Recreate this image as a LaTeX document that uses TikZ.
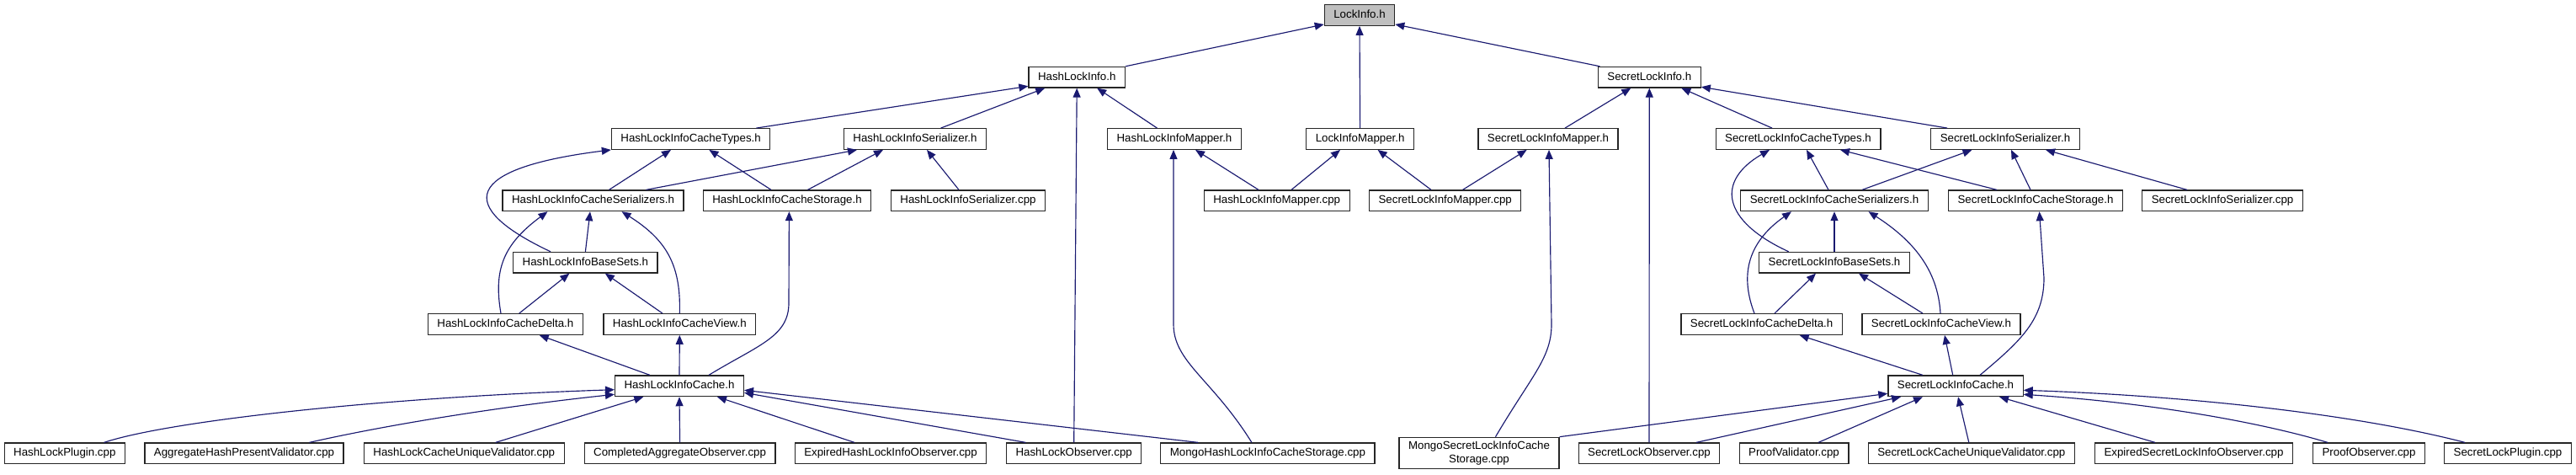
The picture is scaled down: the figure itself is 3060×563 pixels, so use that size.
\documentclass[tikz,border=0pt]{standalone}
\usepackage{fontspec}
\setmainfont{Liberation Sans}
\usetikzlibrary{arrows.meta}
\definecolor{navy}{HTML}{191970}
\definecolor{rootgray}{HTML}{BFBFBF}
\tikzset{
  boxbase/.style={draw=black!85, line width=1.25pt, fill=white, rectangle, inner xsep=11pt,
    font=\fontsize{13.3}{15.3}\selectfont},
  box/.style={boxbase, minimum height=24.6pt, inner ysep=0pt, text height=9.6pt, text depth=2.8pt},
  boxtwo/.style={boxbase, minimum height=37.4pt, inner ysep=4pt, align=center},
  edge/.style={draw=navy, line width=1.15pt, -{Triangle[length=11pt,width=9pt]}},
}
\begin{document}
\begin{tikzpicture}[x=1pt,y=1pt]
\fill[white] (0,0) rectangle (3060,-563);
\path[use as bounding box] (0,0) rectangle (3060,-563);
% row 0
\node[box, fill=rootgray] (li) at (1615,-18) {LockInfo.h};
% row 1
\node[box] (hli) at (1279.2,-91.7) {HashLockInfo.h};
\node[box] (sli) at (1959.3,-91.7) {SecretLockInfo.h};
% row 2
\node[box] (hlct) at (820.6,-165) {HashLockInfoCacheTypes.h};
\node[box] (hls) at (1087,-165) {HashLockInfoSerializer.h};
\node[box] (hlm) at (1395,-165) {HashLockInfoMapper.h};
\node[box] (lim) at (1615.6,-165) {LockInfoMapper.h};
\node[box] (slm) at (1839,-165) {SecretLockInfoMapper.h};
\node[box] (slct) at (2136,-165) {SecretLockInfoCacheTypes.h};
\node[box] (sls) at (2382,-165) {SecretLockInfoSerializer.h};
% row 3
\node[box] (hlcs) at (704.5,-238.3) {HashLockInfoCacheSerializers.h};
\node[box] (hlcst) at (935,-238.3) {HashLockInfoCacheStorage.h};
\node[box] (hlscpp) at (1150,-238.3) {HashLockInfoSerializer.cpp};
\node[box] (hlmcpp) at (1516.7,-238.3) {HashLockInfoMapper.cpp};
\node[box] (slmcpp) at (1716.7,-238.3) {SecretLockInfoMapper.cpp};
\node[box] (slcs) at (2179,-238.3) {SecretLockInfoCacheSerializers.h};
\node[box] (slcst) at (2418,-238.3) {SecretLockInfoCacheStorage.h};
\node[box] (slscpp) at (2640,-238.3) {SecretLockInfoSerializer.cpp};
% row 4
\node[box] (hlbs) at (695.4,-311.7) {HashLockInfoBaseSets.h};
\node[box] (slbs) at (2179,-311.7) {SecretLockInfoBaseSets.h};
% row 5
\node[box] (hlcd) at (600.4,-385) {HashLockInfoCacheDelta.h};
\node[box] (hlcv) at (807.3,-385) {HashLockInfoCacheView.h};
\node[box] (slcd) at (2092.6,-385) {SecretLockInfoCacheDelta.h};
\node[box] (slcv) at (2306,-385) {SecretLockInfoCacheView.h};
% row 6
\node[box] (hlc) at (807,-458.3) {HashLockInfoCache.h};
\node[box] (slc) at (2323,-458.3) {SecretLockInfoCache.h};
% row 7
\node[box] (hlp) at (76.8,-538.3) {HashLockPlugin.cpp};
\node[box] (ahpv) at (290,-538.3) {AggregateHashPresentValidator.cpp};
\node[box] (hlcuv) at (551.3,-538.3) {HashLockCacheUniqueValidator.cpp};
\node[box] (cao) at (807.6,-538.3) {CompletedAggregateObserver.cpp};
\node[box] (ehlio) at (1058,-538.3) {ExpiredHashLockInfoObserver.cpp};
\node[box] (hlo) at (1275.7,-538.3) {HashLockObserver.cpp};
\node[box] (mhlics) at (1505.9,-538.3) {MongoHashLockInfoCacheStorage.cpp};
\node[boxtwo] (mslics) at (1757,-538) {MongoSecretLockInfoCache\\Storage.cpp};
\node[box] (slo) at (1959,-538.3) {SecretLockObserver.cpp};
\node[box] (pv) at (2131,-538.3) {ProofValidator.cpp};
\node[box] (slcuv) at (2341.8,-538.3) {SecretLockCacheUniqueValidator.cpp};
\node[box] (eslio) at (2606,-538.3) {ExpiredSecretLockInfoObserver.cpp};
\node[box] (po) at (2814,-538.3) {ProofObserver.cpp};
\node[box] (slp) at (2979,-538.3) {SecretLockPlugin.cpp};

% edges to LockInfo.h
\draw[edge] (hli.north east) -- ([yshift=2pt]li.south west);
\draw[edge] (lim.north) -- (li.south);
\draw[edge] ([xshift=2.6pt]sli.north west) -- ([yshift=2pt]li.south east);
% edges to HashLockInfo.h
\draw[edge] ([xshift=-17pt]hlct.north east) -- ([yshift=2.3pt]hli.south west);
\draw[edge] ([xshift=30.6pt]hls.north) -- ([xshift=-38pt]hli.south);
\draw[edge] (hlo.north) -- (hli.south);
\draw[edge] ([xshift=-20.5pt]hlm.north) -- ([xshift=24pt]hli.south);
% edges to SecretLockInfo.h
\draw[edge] ([xshift=20pt]slm.north) -- ([xshift=-22pt]sli.south);
\draw[edge] (slo.north) -- (sli.south);
\draw[edge] ([xshift=-31pt]slct.north) -- ([xshift=38pt]sli.south);
\draw[edge] ([xshift=-69pt]sls.north) -- ([yshift=1.4pt]sli.south east);
% edges to HashLockInfoCacheTypes.h
\draw[edge] ([xshift=19pt]hlcs.north) -- ([xshift=-23.6pt]hlct.south);
\draw[edge] ([xshift=-19pt]hlcst.north) -- ([xshift=21.8pt]hlct.south);
\draw[edge] ([xshift=-41.4pt]hlbs.north) .. controls (540,-245) and (550,-200) .. (hlct.south west);
% edges to HashLockInfoSerializer.h
\draw[edge] ([xshift=63pt]hlcs.north) -- ([xshift=-69pt]hls.south);
\draw[edge] ([xshift=24.5pt]hlcst.north) -- ([xshift=-38pt]hls.south);
\draw[edge] ([xshift=-11pt]hlscpp.north) -- ([xshift=14pt]hls.south);
% edges to HashLockInfoMapper.h
\draw[edge] ([xshift=-21.7pt]hlmcpp.north) -- ([xshift=25pt]hlm.south);
\draw[edge] ([xshift=-19pt]mhlics.north) .. controls (1440,-450) and (1394,-430) .. (1394,-385) -- ([xshift=-1pt]hlm.south);
% edges to LockInfoMapper.h
\draw[edge] ([xshift=17.3pt]hlmcpp.north) -- ([xshift=-23.6pt]lim.south);
\draw[edge] ([xshift=-16.7pt]slmcpp.north) -- ([xshift=21pt]lim.south);
% edges to SecretLockInfoMapper.h
\draw[edge] ([xshift=20.8pt]slmcpp.north) -- ([xshift=-25.4pt]slm.south);
\draw[edge] ([xshift=19.5pt]mslics.north) .. controls (1820,-445) and (1843,-425) .. (1843,-385) -- ([xshift=1pt]slm.south);
% edges to SecretLockInfoCacheTypes.h
\draw[edge] ([xshift=-7pt]slcs.north) -- ([xshift=10pt]slct.south);
\draw[edge] ([xshift=-46pt]slcst.north) -- ([xshift=50pt]slct.south);
\draw[edge] ([xshift=-54.4pt]slbs.north) .. controls (2045,-262) and (2038,-215) .. ([xshift=-34pt]slct.south);
% edges to SecretLockInfoSerializer.h
\draw[edge] ([xshift=33pt]slcs.north) -- ([xshift=-39.5pt]sls.south);
\draw[edge] ([xshift=-6pt]slcst.north) -- ([xshift=7pt]sls.south);
\draw[edge] ([xshift=-42pt]slscpp.north) -- ([xshift=48pt]sls.south);
% edges to HashLockInfoCacheSerializers.h
\draw[edge] (hlbs.north) -- ([xshift=-3.5pt]hlcs.south);
\draw[edge] ([xshift=-5.4pt]hlcd.north) .. controls (586,-320) and (598,-290) .. ([xshift=-54pt]hlcs.south);
\draw[edge] (hlcv.north) .. controls (809,-315) and (792,-285) .. ([xshift=34pt]hlcs.south);
% edges to HashLockInfoCacheStorage.h
\draw[edge] ([xshift=35pt]hlc.north) .. controls (900,-410) and (937,-400) .. (937,-360) -- ([xshift=2.4pt]hlcst.south);
% edges to HashLockInfoBaseSets.h
\draw[edge] ([xshift=16.3pt]hlcd.north) -- ([xshift=-19pt]hlbs.south);
\draw[edge] ([xshift=-20.3pt]hlcv.north) -- ([xshift=23.4pt]hlbs.south);
% edges to HashLockInfoCacheDelta.h / View.h
\draw[edge] ([xshift=-35pt]hlc.north) -- ([xshift=40.3pt]hlcd.south);
\draw[edge] (hlc.north) -- (hlcv.south);
% edges to HashLockInfoCache.h
\draw[edge] ([xshift=46.8pt]hlp.north) .. controls (200,-500) and (450,-472) .. ([yshift=-4.4pt]hlc.west);
\draw[edge] ([xshift=77.5pt]ahpv.north) .. controls (480,-500) and (620,-480) .. ([yshift=-10pt]hlc.west);
\draw[edge] ([xshift=37.4pt]hlcuv.north) -- ([xshift=-42.7pt]hlc.south);
\draw[edge] (cao.north) -- (hlc.south);
\draw[edge] ([xshift=-43pt]ehlio.north) -- ([xshift=45pt]hlc.south);
\draw[edge] ([xshift=-57.3pt]hlo.north) -- ([yshift=-8pt]hlc.east);
\draw[edge] ([xshift=-82.6pt]mhlics.north) -- ([yshift=-5pt]hlc.east);
% edges to SecretLockInfoBaseSets.h / CacheSerializers.h
\draw[edge] (slbs.north) -- (slcs.south);
\draw[edge] ([xshift=15.4pt]slcd.north) -- ([xshift=-22pt]slbs.south);
\draw[edge] ([xshift=-22pt]slcv.north) -- ([xshift=29pt]slbs.south);
\draw[edge] ([xshift=-8.6pt]slcd.north) .. controls (2068,-330) and (2073,-290) .. ([xshift=-51pt]slcs.south);
\draw[edge] ([xshift=-1pt]slcv.north) .. controls (2302,-320) and (2272,-285) .. ([xshift=40.5pt]slcs.south);
% edges to SecretLockInfoCacheStorage.h
\draw[edge] ([xshift=29pt]slc.north) .. controls (2400,-405) and (2428,-380) .. (2428,-330) -- ([xshift=4.5pt]slcst.south);
% edges to SecretLockInfoCacheDelta.h / View.h
\draw[edge] ([xshift=-39pt]slc.north) -- ([xshift=45pt]slcd.south);
\draw[edge] ([xshift=-3.3pt]slc.north) -- ([xshift=4pt]slcv.south);
% edges to SecretLockInfoCache.h
\draw[edge] (mslics.north east) -- ([yshift=-9pt]slc.west);
\draw[edge] ([xshift=56pt]slo.north) -- ([xshift=-65pt]slc.south);
\draw[edge] ([xshift=29pt]pv.north) -- ([xshift=-39pt]slc.south);
\draw[edge] ([xshift=-3pt]slcuv.north) -- ([xshift=3pt]slc.south);
\draw[edge] ([xshift=-46pt]eslio.north) -- ([xshift=52pt]slc.south);
\draw[edge] ([xshift=-49pt]po.north) .. controls (2680,-500) and (2550,-478) .. ([yshift=-10pt]slc.east);
\draw[edge] ([xshift=-51pt]slp.north) .. controls (2800,-492) and (2600,-470) .. ([yshift=-5pt]slc.east);
\end{tikzpicture}
\end{document}
